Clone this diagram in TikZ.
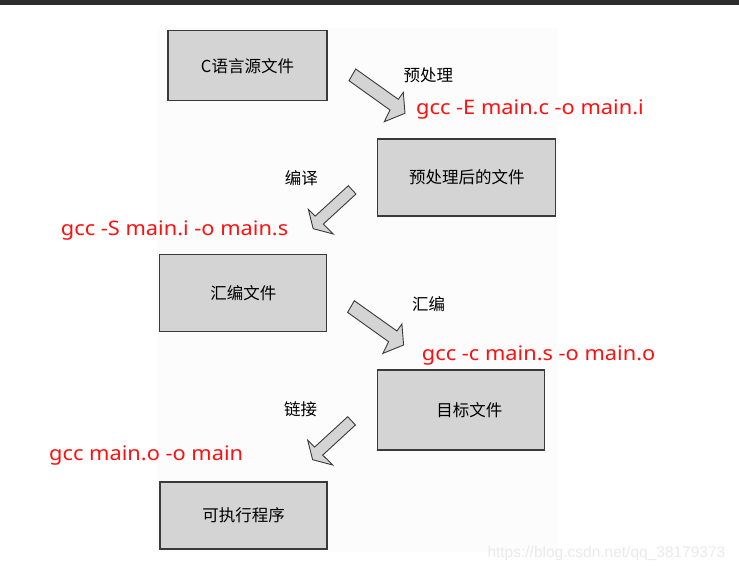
\documentclass[tikz,border=0pt]{standalone}
\usepackage{fontspec}
\setmainfont{Noto Sans}
\newfontfamily\cjk{Noto Sans CJK SC}
\newfontfamily\wmfont{Liberation Sans}
\definecolor{boxgray}{HTML}{D4D4D4}
\definecolor{edgegray}{HTML}{3A3A3A}
\definecolor{topbar}{HTML}{2D2D2D}
\definecolor{panel}{HTML}{FCFCFC}
\definecolor{wmgray}{HTML}{EAEAEA}
\definecolor{cmdred}{HTML}{FF1010}
\begin{document}
\begin{tikzpicture}[x=1pt,y=-1pt,
  box/.style={draw=edgegray, fill=boxgray, line width=1.1pt, rectangle, inner sep=0pt,
              font=\cjk\fontsize{16.5}{20}\selectfont},
  lbl/.style={font=\cjk\fontsize{16.5}{20}\selectfont, text=black, inner sep=0pt},
  cmd/.style={font=\fontsize{20}{24}\selectfont, text=cmdred, inner sep=0pt, anchor=base west},
  blockarrow/.style={draw=edgegray, fill=boxgray, line width=0.9pt, line join=miter},
  arrR/.pic={\draw[blockarrow] (0,0) -- (42.6,30.3) -- (47.6,23.3) -- (49.3,44.3)
      -- (28.6,52.7) -- (34.3,41) -- (-6.7,11.7) -- cycle;},
  arrL/.pic={\draw[blockarrow] (0,0) -- (7.7,8.3) -- (-25,38.4) -- (-15,48.3)
      -- (-35.1,43) -- (-40,23.6) -- (-33.1,30.4) -- cycle;}
]
\useasboundingbox (0,0) rectangle (739,572);
\fill[white] (0,0) rectangle (739,572);
\fill[panel] (157,28) rectangle (558,552);
\fill[topbar] (0,0) rectangle (739,5);

% boxes
\node[box, minimum width=159pt, minimum height=70pt] (src) at (247.5,65.7) {C语言源文件};
\node[box, minimum width=178pt, minimum height=77pt] (pre) at (466.8,177.5) {预处理后的文件};
\node[box, minimum width=167pt, minimum height=77pt] (asm) at (243.3,293.2) {汇编文件};
\node[box, minimum width=167pt, minimum height=80pt] (obj) at (461.3,410) {\hspace*{16pt}目标文件};
\node[box, minimum width=167pt, minimum height=67pt] (exe) at (243.5,515.5) {可执行程序};

% block arrows
\pic at (355.7,69) {arrR};
\pic at (348.3,185.7) {arrL};
\pic at (354.3,300.7) {arrR};
\pic at (347.7,416.7) {arrL};

% stage labels
\node[lbl] (l1) at (428.3,75) {预处理};
\node[lbl] (l2) at (301.3,178.3) {编译};
\node[lbl] (l3) at (428.7,304) {汇编};
\node[lbl] (l4) at (300.7,409.6) {链接};

% commands
\node[cmd] (c1) at (416,115) {\scalebox{1.09}[1]{gcc -E main.c -o main.i}};
\node[cmd] (c2) at (60.7,236) {\scalebox{1.09}[1]{gcc -S main.i -o main.s}};
\node[cmd] (c3) at (421.7,360) {\scalebox{1.09}[1]{gcc -c main.s -o main.o}};
\node[cmd] (c4) at (49,460) {\scalebox{1.09}[1]{gcc main.o -o main}};

% watermark
\node[font=\wmfont\fontsize{15.5}{18}\selectfont, text=wmgray, inner sep=0pt, anchor=west] (wm) at (487.3,553.3) {https://blog.csdn.net/qq\_38179373};
\end{tikzpicture}
\end{document}
